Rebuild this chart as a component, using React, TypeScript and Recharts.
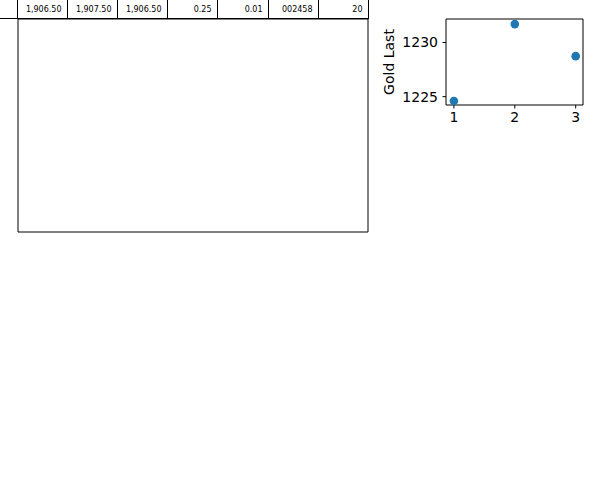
import React from 'react';
import {
  ScatterChart,
  Scatter,
  XAxis,
  YAxis,
  Label
} from 'recharts';

// table row values (first cell sits mostly off the left edge)
const tableCells = ['', '1,906.50', '1,907.50', '1,906.50', '0.25', '0.01', '002458', '20'];

// scatter data
const xValues = [1, 2, 3];
const goldLast = [1224.6, 1231.7, 1228.74];
const xTicks = [1, 2, 3];
const yTicks = [1225, 1230];

const scatterData = xValues.map((x, i) => ({ x, y: goldLast[i] }));

const font = 'DejaVu Sans, sans-serif';
const blue = '#1f77b4';

const TableRow: React.FC = () => {
  const cellW = 50.1;
  const firstRight = 17;
  return (
    <>
      {tableCells.map((text, i) => {
        const right = firstRight + i * cellW;
        return (
          <div
            key={i}
            style={{
              position: 'absolute',
              left: Math.round(right - cellW),
              top: -1,
              width: Math.round(right) - Math.round(right - cellW) + 1,
              height: 20,
              boxSizing: 'border-box',
              borderTop: '1px solid #000',
              borderBottom: '1px solid #000',
              borderRight: '1px solid #000',
              borderLeft: i === 0 ? '1px solid #000' : 'none',
              fontFamily: font,
              fontSize: 8,
              lineHeight: '19px',
              textAlign: 'right',
              paddingRight: 5.5,
              color: '#000'
            }}
          >
            {text}
          </div>
        );
      })}
    </>
  );
};

// empty axes box below the table
const EmptyAxes: React.FC = () => (
  <div style={{ position: 'absolute', left: 17, top: 18 }}>
    <ScatterChart width={352} height={215} margin={{ top: 0, right: 0, bottom: 0, left: 0 }}>
      <XAxis xAxisId="b" type="number" dataKey="x" domain={[0, 1]} tick={false} tickLine={false} height={1} axisLine={{ stroke: '#000' }} />
      <XAxis xAxisId="t" orientation="top" type="number" dataKey="x" domain={[0, 1]} tick={false} tickLine={false} height={1} axisLine={{ stroke: '#000' }} />
      <YAxis yAxisId="l" type="number" dataKey="y" domain={[0, 1]} tick={false} tickLine={false} width={1} axisLine={{ stroke: '#000' }} />
      <YAxis yAxisId="r" orientation="right" type="number" dataKey="y" domain={[0, 1]} tick={false} tickLine={false} width={1} axisLine={{ stroke: '#000' }} />
      <Scatter xAxisId="b" yAxisId="l" data={[]} isAnimationActive={false} />
    </ScatterChart>
  </div>
);

const App: React.FC = () => {
  const tickStyle = { fontFamily: font, fontSize: 14, fill: '#000' };
  return (
    <div style={{ position: 'absolute', left: 0, top: 0, width: 600, height: 500, background: '#fff', overflow: 'hidden' }}>
      <TableRow />
      <EmptyAxes />
      <div style={{ position: 'absolute', left: 370, top: 0 }}>
        <ScatterChart width={230} height={140} margin={{ top: 18, right: 16, bottom: 5, left: 29 }}>
          <XAxis
            xAxisId="b"
            type="number"
            dataKey="x"
            domain={[0.87, 3.12]}
            ticks={xTicks}
            height={30}
            tickSize={3.5}
            tickMargin={3.5}
            tick={tickStyle}
            stroke="#000"
            axisLine={{ stroke: '#000' }}
            tickLine={{ stroke: '#000' }}
          />
          <XAxis xAxisId="t" orientation="top" type="number" dataKey="x" domain={[0.87, 3.12]} tick={false} tickLine={false} height={1} axisLine={{ stroke: '#000' }} />
          <YAxis
            yAxisId="l"
            type="number"
            dataKey="y"
            domain={[1224.23, 1232.17]}
            ticks={yTicks}
            width={47}
            tickSize={3.5}
            tickMargin={4.5}
            tick={tickStyle}
            stroke="#000"
            axisLine={{ stroke: '#000' }}
            tickLine={{ stroke: '#000' }}
          >
            <Label
              value="Gold Last"
              angle={-90}
              position="insideLeft"
              offset={-10}
              style={{ textAnchor: 'middle', fontFamily: font, fontSize: 14, fill: '#000' }}
            />
          </YAxis>
          <YAxis yAxisId="r" orientation="right" type="number" dataKey="y" domain={[1224.23, 1232.17]} tick={false} tickLine={false} width={1} axisLine={{ stroke: '#000' }} />
          <Scatter
            xAxisId="b"
            yAxisId="l"
            data={scatterData}
            isAnimationActive={false}
            shape={(props: any) => <circle cx={props.cx} cy={props.cy} r={4.3} fill={blue} />}
          />
        </ScatterChart>
      </div>
    </div>
  );
};

export default App;
